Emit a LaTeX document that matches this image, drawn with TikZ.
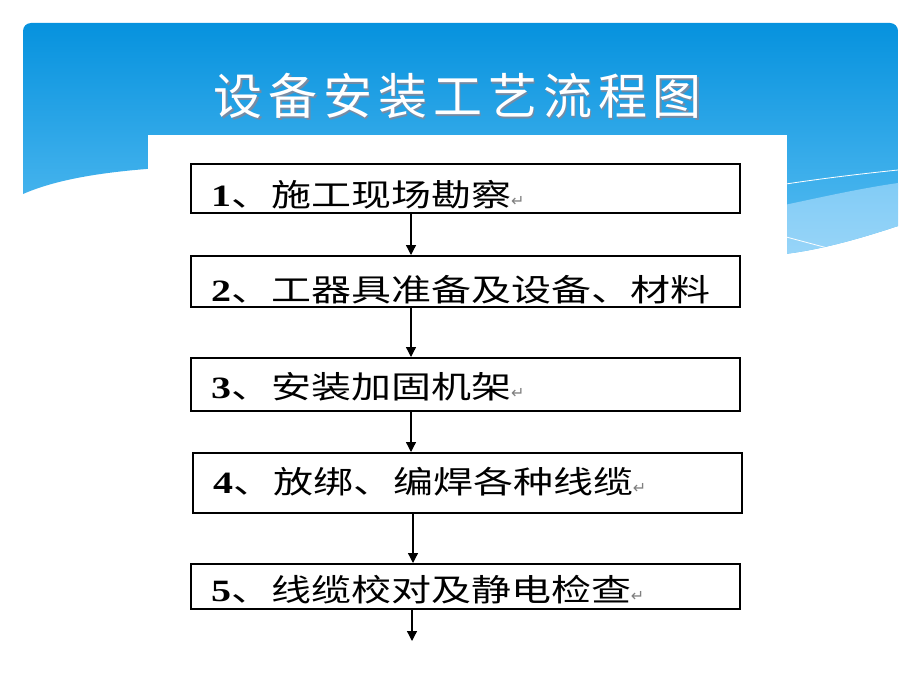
\documentclass[tikz,border=0pt]{standalone}
\usepackage{xcolor}
\usepackage{fontspec}
\usepackage{tikz}
\usetikzlibrary{arrows.meta}
\newfontfamily\boxfont[FakeStretch=1.29]{Noto Sans CJK SC}
\newfontfamily\numfont[FakeStretch=1.29]{Liberation Serif}
\newfontfamily\titlefont[LetterSpace=12]{Noto Sans CJK SC}
\newfontfamily\symfont{DejaVu Sans}
\definecolor{bannertop}{RGB}{6,146,222}
\definecolor{bannerbot}{RGB}{90,190,242}
\definecolor{bandtop}{RGB}{130,204,246}
\definecolor{bandbot}{RGB}{165,218,249}
\definecolor{titleshade}{RGB}{60,90,125}
\newcommand\retmark{{\symfont\fontsize{16}{16}\selectfont\color{gray}↵}}
\newcommand\titletext{设备安装工艺流程图}

\begin{document}
\begin{tikzpicture}[x=1pt,y=-1pt,
        stepbox/.style={draw, line width=2.2pt, anchor=north west, minimum height=#1,
                text width=509pt, inner xsep=20pt, inner ysep=0pt, align=left, text depth=0pt,
                font=\boxfont\fontsize{31}{31}\selectfont},
        flow/.style={line width=1.3pt, -{Triangle[length=10pt,width=10pt]}},
        titlestyle/.style={text=white, font=\titlefont\fontsize{49}{49}\selectfont}]
        \useasboundingbox (0,0) rectangle (920,690);
        %画蓝色标题栏
        \begin{scope}
                \clip[rounded corners=8pt] (23,23) rectangle (898,400);
                \clip (23,194) -- (23,20) -- (898,20) -- (898,226)
                        .. controls (850,242) and (810,252) .. (775,255) -- (160,168)
                        .. controls (100,172) and (55,180) .. cycle;
                \shade[top color=bannertop, bottom color=bannerbot] (23,23) rectangle (898,255);
                \shade[top color=bandtop, bottom color=bandbot] (898,183)
                        .. controls (850,190) and (810,200) .. (760,210) -- (760,300) -- (898,300) -- cycle;
                \draw[white, line width=0.8pt] (898,170) .. controls (850,175) and (810,180) .. (760,188);
                \draw[white, line width=0.8pt] (760,230) -- (850,254);
        \end{scope}
        %标题
        \node[titlestyle] (title) at (458,97)
                {\makebox[0pt][l]{\hspace{1.2pt}\raisebox{-1.2pt}{\color{titleshade!70}\titletext}}\titletext};
        %白色底图
        \fill[white] (148,135) rectangle (787,690);
        %画流程框
        \node[stepbox=49pt, text height=36pt] (box1) at (190,163) {{\numfont\bfseries 1}、施工现场勘察\retmark};
        \node[stepbox=51pt, text height=40pt] (box2) at (190,255) {{\numfont\bfseries 2}、工器具准备及设备、材料};
        \node[stepbox=53pt, text height=27pt] (box3) at (190,357) {{\numfont\bfseries 3}、安装加固机架\retmark};
        \node[stepbox=60pt, text height=20pt] (box4) at (192,452) {{\numfont\bfseries 4}、放绑、编焊各种线缆\retmark};
        \node[stepbox=45pt, text height=29pt] (box5) at (190,563) {{\numfont\bfseries 5}、线缆校对及静电检查\retmark};
        %画箭头
        \foreach \a/\b in {box1/box2,box2/box3,box3/box4,box4/box5}
                \draw[flow] ([xshift=221pt]\a.south west) -- ([xshift=221pt]\a.south west |- \b.north);
        \coordinate (end) at (412,641);
        \draw[flow] (end |- box5.south) -- (end);
\end{tikzpicture}
\end{document}
